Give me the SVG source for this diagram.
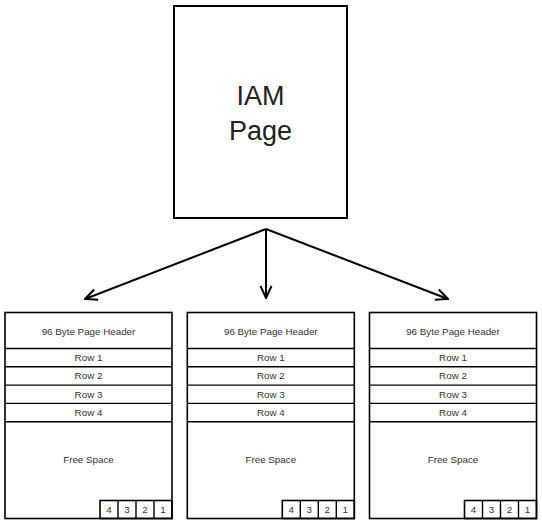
<svg xmlns="http://www.w3.org/2000/svg" width="542" height="523" viewBox="0 0 542 523">
<style>
  .box { fill: #ffffff; stroke: #000000; stroke-width: 1.6; }
  .iam { fill: #ffffff; stroke: #000000; stroke-width: 2; }
  .ln { stroke: #000000; stroke-width: 1.4; fill: none; }
  .t { font-family: "Liberation Sans", Arial, sans-serif; font-size: 9.8px; fill: #333333; text-anchor: middle; }
  .big { font-family: "Liberation Sans", Arial, sans-serif; font-size: 27px; fill: #222222; text-anchor: middle; }
  .conn { stroke: #000000; stroke-width: 2; fill: none; marker-end: url(#arr); }
</style>
<defs>
  <marker id="arr" viewBox="0 0 14 14" refX="13" refY="7" markerWidth="14" markerHeight="14" markerUnits="userSpaceOnUse" orient="auto">
    <polyline points="1,1.5 13,7 1,12.5" fill="none" stroke="#000" stroke-width="2"/>
  </marker>
  <g id="page">
    <rect class="box" x="0" y="0" width="167" height="206"/>
    <line class="ln" x1="0" y1="36" x2="167" y2="36"/>
    <line class="ln" x1="0" y1="54.3" x2="167" y2="54.3"/>
    <line class="ln" x1="0" y1="72.6" x2="167" y2="72.6"/>
    <line class="ln" x1="0" y1="90.9" x2="167" y2="90.9"/>
    <line class="ln" x1="0" y1="109.2" x2="167" y2="109.2"/>
    <rect class="box" x="95" y="188" width="72" height="18" style="fill:none"/>
    <line class="ln" x1="113" y1="188" x2="113" y2="206"/>
    <line class="ln" x1="131" y1="188" x2="131" y2="206"/>
    <line class="ln" x1="149" y1="188" x2="149" y2="206"/>
    <text class="t" x="83.5" y="22.5">96 Byte Page Header</text>
    <text class="t" x="83.5" y="48.5">Row 1</text>
    <text class="t" x="83.5" y="66.8">Row 2</text>
    <text class="t" x="83.5" y="85.1">Row 3</text>
    <text class="t" x="83.5" y="103.4">Row 4</text>
    <text class="t" x="83.5" y="150">Free Space</text>
    <text class="t" x="104" y="200.5">4</text>
    <text class="t" x="122" y="200.5">3</text>
    <text class="t" x="140" y="200.5">2</text>
    <text class="t" x="158" y="200.5">1</text>
  </g>
</defs>
<g id="iam-page">
  <rect class="iam" x="174" y="6" width="173" height="212"/>
  <text class="big" x="260.5" y="105">IAM</text>
  <text class="big" x="260.5" y="140">Page</text>
</g>
<g id="connectors">
  <line class="conn" x1="266" y1="229" x2="85" y2="299"/>
  <line class="conn" x1="266" y1="229" x2="266" y2="298"/>
  <line class="conn" x1="266" y1="229" x2="448" y2="299"/>
</g>
<g id="data-page-1"><use href="#page" x="5" y="312.5"/></g>
<g id="data-page-2"><use href="#page" x="187.3" y="312.5"/></g>
<g id="data-page-3"><use href="#page" x="369.5" y="312.5"/></g>
</svg>
